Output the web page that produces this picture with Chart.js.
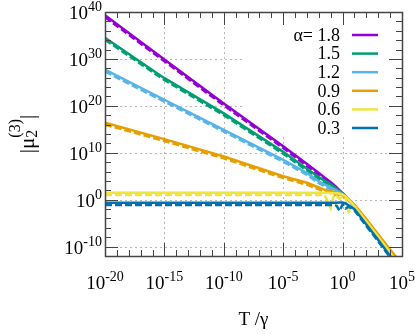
<!DOCTYPE html>
<html>
<head>
<meta charset="utf-8">
<script src="https://cdn.jsdelivr.net/npm/chart.js@4"></script>
<style>
  html, body { margin: 0; padding: 0; background: #fff; }
</style>
</head>
<body>
<canvas id="muChart" width="415" height="334"></canvas>
<script>
// x grid, log10(T/gamma)
const logT = [-20, -15, -10, -5, -3, -2, -1.5, -1, -0.75, -0.5, -0.25, 0, 0.25, 0.5, 1, 2, 3, 4, 5];

const alphas = ["1.8", "1.5", "1.2", "0.9", "0.6", "0.3"];
const colors = ["#9400d3", "#009e73", "#56b4e9", "#e69f00", "#f0e442", "#0072b2"];

// log10 |mu_2^(3)|, solid curves
const mu18 = [39.3, 29.9, 20.5, 11.4, 7.6, 5.7, 4.7, 3.7, 3.2, 2.6, 2.0, 1.4, 0.8, 0.1, -1.3, -4.4, -7.8, -11.1, -14.4];
const mu15 = [34.5, 25.9, 18.4, 10.2, 6.6, 4.8, 4.0, 3.2, 2.8, 2.3, 1.8, 1.3, 0.8, 0.1, -1.3, -4.4, -7.7, -11.0, -14.3];
const mu12 = [27.7, 21.3, 14.9, 8.5, 5.7, 3.9, 3.2, 2.6, 2.3, 2.0, 1.6, 1.2, 0.75, 0.1, -1.4, -4.4, -7.7, -11.0, -14.2];
const mu09 = [16.4, 12.9, 9.2, 5.0, 3.6, 2.6, 2.1, 1.8, 1.7, 1.5, 1.3, 1.1, 0.7, 0.15, -1.1, -4.1, -7.4, -10.6, -13.8];
const mu06 = [1.5, 1.5, 1.5, 1.5, 1.5, 1.5, 1.5, 1.45, 1.4, 1.35, 1.25, 1.05, 0.7, 0.0, -1.4, -4.6, -7.9, -11.3, -14.6];
const mu03 = [-0.64, -0.64, -0.64, -0.64, -0.64, -0.64, -0.64, -0.64, -0.64, -0.64, -0.62, -0.6, -0.8, -1.2, -2.0, -5.3, -8.6, -12.0, -15.3];

// log10 |mu_2^(3)|, dashed curves
const mu18d = [38.9, 29.5, 20.1, 11.0, 7.2, 5.3, 4.3, 3.3, 2.8, 2.3, 1.7, 1.1, 0.6, -0.1, -1.5, -4.6, -8.0, -11.3, -14.6];
const mu15d = [34.1, 25.5, 18.0, 9.8, 6.2, 4.4, 3.6, 2.8, 2.4, 2.0, 1.5, 1.0, 0.6, -0.1, -1.5, -4.6, -7.9, -11.2, -14.5];
const mu12d = [27.3, 20.9, 14.5, 8.1, 5.3, 3.5, 2.8, 2.2, 1.9, 1.7, 1.3, 0.9, 0.5, -0.1, -1.6, -4.6, -7.9, -11.2, -14.4];
const mu09d = [16.0, 12.5, 8.8, 4.6, 3.2, 2.2, 1.7, 1.4, 0.9, 1.3, 0.6, 0.9, 0.4, -0.1, -1.3, -4.3, -7.6, -10.8, -14.0];
const mu06d = [1.0, 1.0, 1.0, 1.0, 1.0, 1.0, 1.0, -1.8, 0.9, 0.7, 0.2, 0.6, 0.3, -2.6, -1.7, -4.8, -8.1, -11.5, -14.8];
const mu03d = [-1.13, -1.13, -1.13, -1.13, -1.13, -1.13, -1.13, -1.13, -1.13, -1.3, -2.4, -1.0, -1.9, -1.5, -2.3, -5.6, -8.9, -12.3, -15.6];

const solid = [mu18, mu15, mu12, mu09, mu06, mu03];
const dashed = [mu18d, mu15d, mu12d, mu09d, mu06d, mu03d];

const xMinExp = -20, xMaxExp = 5;
const yMinExp = -12, yMaxExp = 40;

const serif = "'Liberation Serif', 'Times New Roman', serif";
const baseSize = 19;
const supSize = 14;

const toPoints = (vals) => vals.map((v, i) => ({ x: Math.pow(10, logT[i]), y: Math.pow(10, v) }));

const datasets = [];
alphas.forEach((a, i) => {
  datasets.push({
    label: a,
    data: toPoints(solid[i]),
    borderColor: colors[i],
    borderWidth: 2.5,
    pointRadius: 0,
    fill: false,
    tension: 0,
  });
  datasets.push({
    label: "",
    data: toPoints(dashed[i]),
    borderColor: colors[i],
    borderWidth: 2.5,
    borderDash: [7, 3],
    pointRadius: 0,
    fill: false,
    tension: 0,
  });
});
datasets.forEach((d, i) => (d.order = 100 - i));

// legend box (blanks the grid like gnuplot's opaque key)
const keyBox = { left: 242, top: 12, bottom: 137 };

function drawPow(ctx, exp, x, y, align) {
  const base = "10";
  const sup = String(exp);
  ctx.font = baseSize + "px " + serif;
  const wb = ctx.measureText(base).width;
  ctx.font = supSize + "px " + serif;
  const ws = ctx.measureText(sup).width;
  let x0 = x;
  if (align === "center") x0 = x - (wb + ws) / 2;
  else if (align === "right") x0 = x - (wb + ws);
  ctx.textAlign = "left";
  ctx.textBaseline = "alphabetic";
  ctx.font = baseSize + "px " + serif;
  ctx.fillText(base, x0, y);
  ctx.font = supSize + "px " + serif;
  ctx.fillText(sup, x0 + wb, y - 8);
}

const frame = {
  id: "frame",
  beforeDatasetsDraw(chart) {
    const { ctx, chartArea: a, scales } = chart;
    ctx.save();
    ctx.beginPath();
    ctx.rect(a.left, a.top, a.right - a.left, a.bottom - a.top);
    ctx.rect(keyBox.left, keyBox.top, a.right - keyBox.left, keyBox.bottom - keyBox.top);
    ctx.clip("evenodd");
    ctx.strokeStyle = "#b8b8b8";
    ctx.lineWidth = 1;
    ctx.setLineDash([2, 3]);
    for (let k = xMinExp + 5; k < xMaxExp; k += 5) {
      const px = Math.round(scales.x.getPixelForValue(Math.pow(10, k))) + 0.5;
      ctx.beginPath();
      ctx.moveTo(px, a.top);
      ctx.lineTo(px, a.bottom);
      ctx.stroke();
    }
    for (let k = -10; k < yMaxExp; k += 10) {
      const py = Math.round(scales.y.getPixelForValue(Math.pow(10, k))) + 0.5;
      ctx.beginPath();
      ctx.moveTo(a.left, py);
      ctx.lineTo(a.right, py);
      ctx.stroke();
    }
    ctx.restore();
  },
  afterDraw(chart) {
    const { ctx, chartArea: a, scales } = chart;
    ctx.save();
    ctx.strokeStyle = "#444";
    ctx.lineWidth = 1;
    ctx.setLineDash([]);

    // ticks on all four sides, pointing inward
    for (let k = xMinExp; k <= xMaxExp; k++) {
      const px = Math.round(scales.x.getPixelForValue(Math.pow(10, k))) + 0.5;
      const len = k % 5 === 0 ? 13 : 6;
      ctx.beginPath();
      ctx.moveTo(px, a.bottom);
      ctx.lineTo(px, a.bottom - len);
      ctx.moveTo(px, a.top);
      ctx.lineTo(px, a.top + len);
      ctx.stroke();
    }
    for (let k = yMinExp; k <= yMaxExp; k += 2) {
      const py = Math.round(scales.y.getPixelForValue(Math.pow(10, k))) + 0.5;
      const len = k % 10 === 0 ? 13 : 6;
      ctx.beginPath();
      ctx.moveTo(a.left, py);
      ctx.lineTo(a.left + len, py);
      ctx.moveTo(a.right, py);
      ctx.lineTo(a.right - len, py);
      ctx.stroke();
    }
    ctx.lineWidth = 1.5;
    ctx.strokeRect(Math.round(a.left) + 0.5, Math.round(a.top) + 0.5,
      Math.round(a.right - a.left), Math.round(a.bottom - a.top));

    // tick labels
    ctx.fillStyle = "#000";
    for (let k = xMinExp; k <= xMaxExp; k += 5) {
      const px = scales.x.getPixelForValue(Math.pow(10, k));
      drawPow(ctx, k, px, a.bottom + 33, "center");
    }
    for (let k = -10; k <= yMaxExp; k += 10) {
      const py = scales.y.getPixelForValue(Math.pow(10, k));
      drawPow(ctx, k, a.left - 3, py + 7, "right");
    }

    // axis titles
    ctx.font = baseSize + "px " + serif;
    ctx.textAlign = "center";
    ctx.textBaseline = "alphabetic";
    ctx.fillText("T /\u03b3", (a.left + a.right) / 2, 325);

    ctx.save();
    ctx.translate(34, 134);
    ctx.rotate(-Math.PI / 2);
    ctx.textAlign = "left";
    const titleSize = 21;
    const titleSup = 16;
    ctx.font = titleSize + "px " + serif;
    const p1 = "|\u03bc";
    const w1 = ctx.measureText(p1).width;
    ctx.font = titleSup + "px " + serif;
    const wSub = ctx.measureText("2").width;
    const wSup = ctx.measureText("(3)").width;
    ctx.font = titleSize + "px " + serif;
    const wBar = ctx.measureText("|").width;
    const total = w1 + Math.max(wSub, wSup) + wBar;
    let cx = -total / 2;
    ctx.fillText(p1, cx, 0);
    cx += w1;
    ctx.font = titleSup + "px " + serif;
    ctx.fillText("2", cx, 3);
    ctx.fillText("(3)", cx, -14);
    cx += Math.max(wSub, wSup);
    ctx.font = titleSize + "px " + serif;
    ctx.fillText("|", cx, 0);
    ctx.restore();

    // key
    ctx.font = "18px " + serif;
    ctx.textAlign = "right";
    ctx.textBaseline = "middle";
    const solidSets = chart.data.datasets.filter((d) => d.label !== "");
    solidSets.forEach((d, i) => {
      const y = 35 + i * 18.6;
      const txt = i === 0 ? "\u03b1= " + d.label : d.label;
      ctx.fillStyle = "#000";
      ctx.fillText(txt, 340, y + 1);
      ctx.strokeStyle = d.borderColor;
      ctx.lineWidth = 2.5;
      ctx.beginPath();
      ctx.moveTo(352, y);
      ctx.lineTo(378, y);
      ctx.stroke();
    });
    ctx.restore();
  },
};

new Chart(document.getElementById("muChart").getContext("2d"), {
  type: "line",
  data: { datasets: datasets },
  options: {
    responsive: false,
    animation: false,
    devicePixelRatio: 1,
    layout: { padding: { left: 105, right: 13, top: 12, bottom: 78 } },
    scales: {
      x: { type: "logarithmic", display: false, min: Math.pow(10, xMinExp), max: Math.pow(10, xMaxExp) },
      y: { type: "logarithmic", display: false, min: Math.pow(10, yMinExp), max: Math.pow(10, yMaxExp) },
    },
    plugins: {
      legend: { display: false },
      tooltip: { enabled: false },
    },
  },
  plugins: [frame],
});
</script>
</body>
</html>
